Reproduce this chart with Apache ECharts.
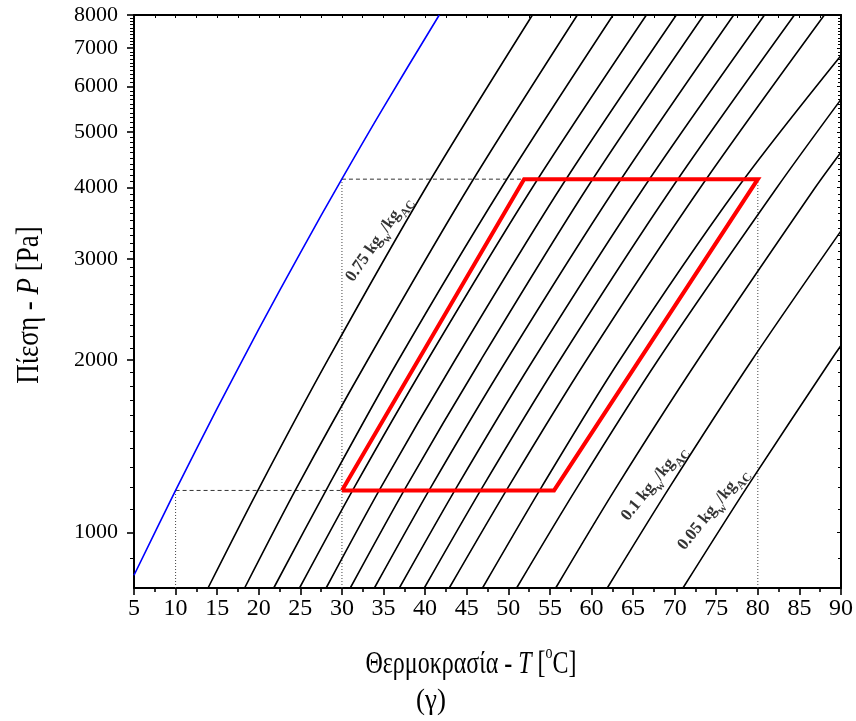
<!DOCTYPE html>
<html><head><meta charset="utf-8">
<script src="https://cdn.jsdelivr.net/npm/echarts@6/dist/echarts.min.js"></script>
<style>html,body{margin:0;padding:0;background:#fff;}#c{width:856px;height:721px;}</style>
</head><body><div id="c"></div>
<script>
const FONT = '"Liberation Serif","Times New Roman",serif';

// Saturation curve (blue): temperature [°C], pressure [Pa]
const satT = [5, 10, 15, 20, 25, 30, 35, 41.7];
const satP = [842, 1184, 1646, 2263, 3077, 4142, 5521, 8000];

// Isosteres (black), uptake in kg_w/kg_AC
const uptakes = [0.75, 0.70, 0.65, 0.60, 0.55, 0.50, 0.45, 0.40, 0.35, 0.30, 0.25, 0.20, 0.15, 0.10, 0.05];
const isoT = [
  [13.9, 20.1, 28.3, 40.1, 52.9],
  [18.3, 24.6, 33.1, 45.2, 58.3],
  [21.8, 28.3, 36.8, 49.2, 62.6],
  [24.9, 31.5, 40.3, 52.9, 66.6],
  [28.1, 34.7, 43.6, 56.3, 70.2],
  [31.0, 37.7, 46.7, 59.5, 73.5],
  [33.9, 40.7, 49.8, 62.9, 77.1],
  [36.9, 43.8, 53.0, 66.3, 80.8],
  [39.9, 46.9, 56.2, 69.7, 84.4],
  [42.9, 50.0, 59.4, 73.1, 88.0],
  [46.9, 54.0, 63.4, 77.6, 90],
  [51.0, 58.3, 68.0, 82.3, 90],
  [55.7, 63.0, 72.8, 86.9, 90],
  [61.9, 69.4, 79.3, 90],
  [71.0, 78.7, 88.8, 90]
];
const isoP = [
  [800, 1200, 2000, 4000, 8000],
  [800, 1200, 2000, 4000, 8000],
  [800, 1200, 2000, 4000, 8000],
  [800, 1200, 2000, 4000, 8000],
  [800, 1200, 2000, 4000, 8000],
  [800, 1200, 2000, 4000, 8000],
  [800, 1200, 2000, 4000, 8000],
  [800, 1200, 2000, 4000, 8000],
  [800, 1200, 2000, 4000, 8000],
  [800, 1200, 2000, 4000, 8000],
  [800, 1200, 2000, 4000, 6800],
  [800, 1200, 2000, 4000, 5700],
  [800, 1200, 2000, 4000, 4610],
  [800, 1200, 2000, 3360],
  [800, 1200, 2000, 2120]
];

// Cycle (red parallelogram)
const cycleT = [30, 55.5, 80, 51.9, 30];
const cycleP = [1184, 1184, 4136, 4136, 1184];

// Guide lines
const dashT = [[10, 30], [30, 80]];
const dashP = [[1184, 1184], [4136, 4136]];
const dotT = [[10, 10], [30, 30], [80, 80]];
const dotP = [[800, 1184], [800, 4136], [800, 4136]];

// Line labels
const labelText = ['0.75', '0.1', '0.05'];
const labelT = [34.6, 67.7, 74.8];
const labelP = [3236, 1213, 1092];
const labelRot = [55, 51, 51];

// Axes
const xMin = 5, xMax = 90, xStep = 5;
const yMin = 800, yMax = 8000;
const yMajor = [1000, 2000, 3000, 4000, 5000, 6000, 7000, 8000];
const yMinor = [900];
for (let k = 1; k <= 7; k++) for (let m = 1; m <= 9; m++) yMinor.push(k * 1000 + m * 100);

const L = Math.log10;
const pair = (ts, ps) => ts.map((t, i) => [t, ps[i]]);

const series = [];
dashT.forEach((ts, i) => series.push({type:'line', data: pair(ts, dashP[i]), symbol:'none', silent:true, animation:false, z:1,
  lineStyle:{color:'#333', width:1, type:[4,3]}}));
dotT.forEach((ts, i) => series.push({type:'line', data: pair(ts, dotP[i]), symbol:'none', silent:true, animation:false, z:1,
  lineStyle:{color:'#444', width:1, type:[1,2]}}));
isoT.forEach((ts, i) => series.push({type:'line', name: uptakes[i] + '', data: pair(ts, isoP[i]), symbol:'none', smooth:0.3, silent:true, animation:false, z:2,
  lineStyle:{color:'#000', width:1.6}}));
series.push({type:'line', data: pair(satT, satP), symbol:'none', smooth:0.3, silent:true, animation:false, z:3, lineStyle:{color:'#0000ff', width:1.6}});
series.push({type:'line', data: pair(cycleT, cycleP), symbol:'none', silent:true, animation:false, z:4, lineStyle:{color:'#ff0000', width:4, join:'miter'}});
labelText.forEach((t, i) => series.push({type:'scatter', data: [[labelT[i], labelP[i]]], symbolSize: 0.1, silent:true, animation:false, z:5,
  itemStyle:{color:'rgba(0,0,0,0)'},
  label:{show:true, position:'inside', rotate: labelRot[i], align:'center', verticalAlign:'middle',
    formatter: '{n|' + t + ' kg}{s|w}{n|/kg}{s|AC}',
    rich:{
      n:{fontFamily:FONT, fontWeight:'bold', fontSize:17, color:'#000', verticalAlign:'top', lineHeight:22},
      s:{fontFamily:FONT, fontWeight:'bold', fontSize:12, color:'#000', verticalAlign:'bottom'}
    }}}));
series.forEach(s => { s.xAxisIndex = 0; s.yAxisIndex = 0; });

const option = {
  animation:false,
  backgroundColor:'#fff',
  grid:{left:134, right:14, top:15, bottom:133, containLabel:false},
  xAxis:[
    {type:'value', position:'bottom', min:xMin, max:xMax, interval:xStep,
      axisLine:{show:true, onZero:false, lineStyle:{color:'#000', width:2}},
      axisTick:{show:true, inside:false, length:7, lineStyle:{color:'#000', width:1.6}},
      minorTick:{show:true, splitNumber:2, length:4, lineStyle:{color:'#000', width:1.6}},
      axisLabel:{margin:9, fontFamily:FONT, fontSize:24, color:'#000'},
      splitLine:{show:false}},
    {type:'value', position:'top', min:xMin, max:xMax, interval:xStep,
      axisLine:{show:true, onZero:false, lineStyle:{color:'#000', width:2}},
      axisTick:{show:true, inside:true, length:3, lineStyle:{color:'#000', width:1}},
      minorTick:{show:true, splitNumber:2, length:3, lineStyle:{color:'#000', width:1}},
      axisLabel:{show:false}, splitLine:{show:false}}
  ],
  yAxis:[
    {type:'log', logBase:10, min:yMin, max:yMax, position:'left',
      axisLine:{show:true, onZero:false, lineStyle:{color:'#000', width:2}},
      axisTick:{show:false}, axisLabel:{show:false}, splitLine:{show:false}, minorTick:{show:false}, minorSplitLine:{show:false}},
    {type:'value', min:L(yMin), max:L(yMax), position:'left',
      axisLine:{show:false},
      axisTick:{show:true, inside:false, length:7, customValues: yMajor.map(L), lineStyle:{color:'#000', width:1.6}},
      axisLabel:{margin:16, customValues: yMajor.map(L), formatter: v => String(Math.round(Math.pow(10, v))),
        fontFamily:FONT, fontSize:22, color:'#000'},
      splitLine:{show:false}},
    {type:'value', min:L(yMin), max:L(yMax), position:'left',
      axisLine:{show:false},
      axisTick:{show:true, inside:false, length:4, customValues: yMinor.map(L), lineStyle:{color:'#000', width:1}},
      axisLabel:{show:false}, splitLine:{show:false}},
    {type:'value', min:L(yMin), max:L(yMax), position:'right',
      axisLine:{show:true, onZero:false, lineStyle:{color:'#000', width:2}},
      axisTick:{show:true, inside:true, length:4, customValues: yMajor.map(L), lineStyle:{color:'#000', width:1}},
      axisLabel:{show:false}, splitLine:{show:false}},
    {type:'value', min:L(yMin), max:L(yMax), position:'right',
      axisLine:{show:false},
      axisTick:{show:true, inside:true, length:3, customValues: yMinor.map(L), lineStyle:{color:'#000', width:1}},
      axisLabel:{show:false}, splitLine:{show:false}}
  ],
  series: series,
  graphic:[
    {type:'text', x:30, y:305, rotation:Math.PI/2, scaleY:1.15, z:10,
      style:{text:'{a|Πίεση - }{i|P}{a| [Pa]}', textAlign:'center', textVerticalAlign:'middle',
        rich:{a:{fontFamily:FONT, fontSize:27, fill:'#000'}, i:{fontFamily:FONT, fontSize:27, fontStyle:'italic', fill:'#000'}}}},
    {type:'text', x:471, y:662, scaleY:1.3, z:10,
      style:{text:'{a|Θερμοκρασία - }{i|T}{a| [}{o|o}{a|C]}', textAlign:'center', textVerticalAlign:'middle',
        rich:{a:{fontFamily:FONT, fontSize:24, fill:'#000', verticalAlign:'bottom', lineHeight:28},
              i:{fontFamily:FONT, fontSize:24, fontStyle:'italic', fill:'#000', verticalAlign:'bottom', lineHeight:28},
              o:{fontFamily:FONT, fontSize:14, fill:'#000', verticalAlign:'top'}}}},
    {type:'text', x:431, y:701, scaleY:1.1, z:10,
      style:{text:'(γ)', textAlign:'center', textVerticalAlign:'middle', font:'27px ' + FONT, fill:'#000'}}
  ]
};
const chart = echarts.init(document.getElementById('c'));
chart.setOption(option);
</script>
</body></html>
